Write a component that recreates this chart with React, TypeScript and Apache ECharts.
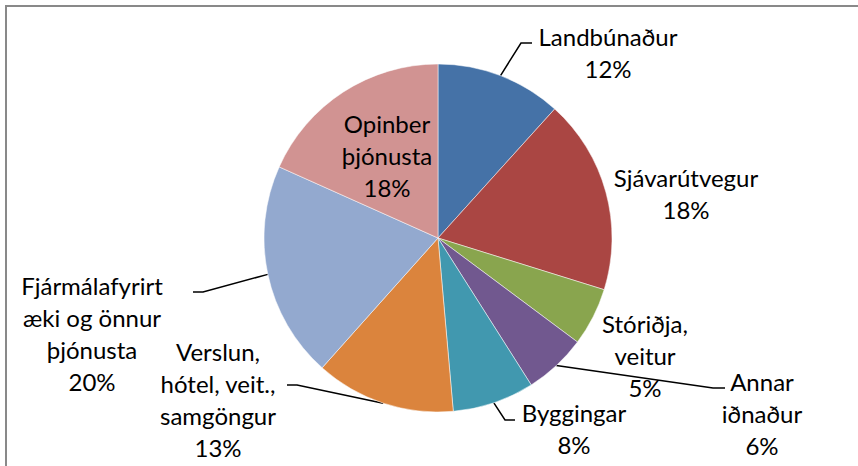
import React, { useEffect, useRef } from "react";
import * as echarts from "echarts";

const categories = [
  "Landbúnaður",
  "Sjávarútvegur",
  "Stóriðja, veitur",
  "Annar iðnaður",
  "Byggingar",
  "Verslun, hótel, veit., samgöngur",
  "Fjármálafyrirtæki og önnur þjónusta",
  "Opinber þjónusta",
];
const labelTexts = [
  "Landbúnaður",
  "Sjávarútvegur",
  "Stóriðja,\nveitur",
  "Annar\niðnaður",
  "Byggingar",
  "Verslun,\nhótel, veit.,\nsamgöngur",
  "Fjármálafyrirt\næki og önnur\nþjónusta",
  "Opinber\nþjónusta",
];
const shares = [11.7, 18.1, 5.4, 5.8, 7.6, 13.0, 20.1, 18.3];
const colors = ["#4572A7", "#AA4643", "#89A54E", "#71588F", "#4198AF", "#DB843D", "#93A9CF", "#D19392"];

// label placement (layout only)
const labelPos: { x: number; y: number; line?: number[][] }[] = [
  { x: 608, y: 52, line: [[521, 43], [532, 43]] },
  { x: 686, y: 193 },
  { x: 645, y: 355 },
  { x: 762, y: 413, line: [[713, 388], [725, 388]] },
  { x: 574, y: 428, line: [[505, 420], [515, 420]] },
  { x: 218, y: 399, line: [[297, 385], [287, 385]] },
  { x: 92, y: 333, line: [[203, 292], [193, 292]] },
  { x: 387, y: 155 },
];

export default function App() {
  const ref = useRef<HTMLDivElement>(null);
  useEffect(() => {
    if (!ref.current) return;
    const chart = echarts.init(ref.current, undefined, { renderer: "svg" });
    chart.setOption({
      animation: false,
      backgroundColor: "#fff",
      graphic: [
        {
          type: "rect",
          shape: { x: 6, y: 6, width: 900, height: 500 },
          style: { fill: "none", stroke: "#898989", lineWidth: 2 },
          silent: true,
        },
      ],
      series: [
        {
          type: "pie",
          center: [438, 238],
          radius: 174,
          startAngle: 90,
          clockwise: true,
          avoidLabelOverlap: false,
          itemStyle: { borderColor: "#ffffff", borderWidth: 0.5 },
          label: {
            show: true,
            position: "outside",
            color: "#000",
            fontFamily: "Lato",
            fontSize: 24,
            lineHeight: 32,
            align: "center",
            formatter: (p: any) => labelTexts[p.dataIndex] + "\n" + Math.round(p.percent) + "%",
          },
          labelLine: { show: true, length: 10, length2: 10, lineStyle: { color: "#000", width: 1.5 } },
          labelLayout: (params: any) => {
            const lp = labelPos[params.dataIndex];
            const res: any = { x: lp.x, y: lp.y, align: "center", verticalAlign: "middle" };
            if (lp.line && params.labelLinePoints) {
              res.labelLinePoints = [params.labelLinePoints[0], lp.line[0], lp.line[1]];
            }
            return res;
          },
          data: categories.map((name, i) => ({
            name,
            value: shares[i],
            itemStyle: { color: colors[i] },
            labelLine: { show: !!labelPos[i].line },
          })),
        },
      ],
    });
    return () => chart.dispose();
  }, []);
  return (
    <div style={{ position: "absolute", left: 0, top: 0, width: 858, height: 466 }}>
      <div ref={ref} style={{ width: 858, height: 466 }} />
    </div>
  );
}
